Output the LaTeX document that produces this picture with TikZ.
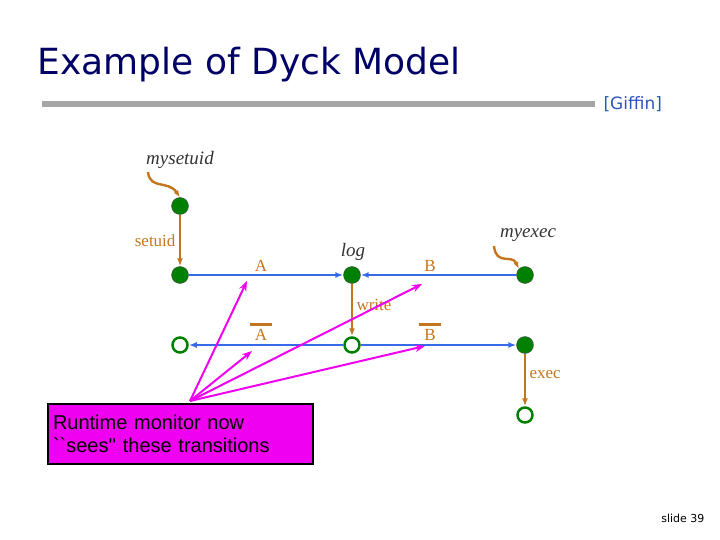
\documentclass[tikz,border=0pt]{standalone}
\usepackage{fontspec}
\setmainfont{Liberation Serif}
\newfontfamily\slidefont{DejaVu Sans}
\newfontfamily\boxfont{Liberation Sans}
\usetikzlibrary{arrows.meta}
\definecolor{titleblue}{RGB}{0,0,102}
\definecolor{edgebrown}{RGB}{196,118,30}
\definecolor{flowblue}{RGB}{55,105,235}
\definecolor{stategreen}{RGB}{0,128,0}
\definecolor{monitor}{RGB}{240,0,240}

\tikzset{
  state/.style={circle, draw=black!70, fill=stategreen, minimum size=17pt, inner sep=0pt},
  final/.style={circle, draw=stategreen, line width=2.5pt, fill=white, minimum size=15pt, inner sep=0pt},
  call/.style={flowblue, line width=2.4pt, -{Latex[length=8pt]}},
  move/.style={edgebrown, line width=2.4pt, -{Latex[length=8pt]}},
  lbl/.style={edgebrown, font=\fontsize{17}{17}\selectfont},
  fname/.style={black!80, font=\fontsize{19}{19}\selectfont\itshape},
  see/.style={monitor, line width=2pt, -{Stealth[length=10pt]}}
}

\begin{document}
\begin{tikzpicture}[x=1pt, y=-1pt]
    \useasboundingbox (0,0) rectangle (720,540);

    \node[anchor=west, titleblue, font=\slidefont\fontsize{36}{36}\selectfont] (title) at (34,65) {Example of Dyck Model};
    \fill[gray!70] (42,101) rectangle (595,107);
    \node[anchor=west, flowblue!80!black, font=\slidefont\fontsize{17}{17}\selectfont] (cite) at (600,104) {[Giffin]};
    \node[anchor=east, font=\slidefont\fontsize{11}{11}\selectfont] (slide) at (708,518) {slide 39};

    % upper row
    \node[state] (s1) at (180,206) {};
    \node[state] (s2) at (180,275) {};
    \node[state] (s3) at (352,275) {};
    \node[state] (s4) at (525,275) {};
    % lower row
    \node[final] (t1) at (180,345) {};
    \node[final] (t2) at (352,345) {};
    \node[state] (t3) at (525,345) {};
    \node[final] (t4) at (525,415) {};

    \draw[call] (s2) -- (s3);
    \draw[call] (s4) -- (s3);
    \draw[call] (t2) -- (t1);
    \draw[call] (t2) -- (t3);
    \draw[move] (s1) -- node[lbl, left] {setuid} (s2);
    \draw[move] (s3) -- node[lbl, right, pos=0.4] {write} (t2);
    \draw[move] (t3) -- node[lbl, right, pos=0.4] {exec} (t4);

    \node[fname] (mysetuid) at (180,160) {mysetuid};
    \node[fname] (myexec) at (528,235) {myexec};
    \node[fname] (log) at (353,252) {log};
    \coordinate (in1) at (148,172);
    \coordinate (in2) at (494,246);
    \draw[move, -{Latex[length=7pt]}] (in1) .. controls (150,190) and (168,180) .. (s1.north);
    \draw[move, -{Latex[length=7pt]}] (in2) .. controls (496,266) and (512,254) .. (s4.north west);

    \node[lbl] (a) at (261,266) {A};
    \node[lbl] (b) at (430,266) {B};
    \node[lbl] (abar) at (261,335) {A};
    \node[lbl] (bbar) at (430,335) {B};
    \draw[edgebrown, line width=3pt] (250,324) -- (272,324) (419,324) -- (441,324);

    \node[draw=black, line width=2pt, fill=monitor, minimum width=265pt, minimum height=60pt, anchor=north west,
          align=left, text width=255pt, font=\boxfont\fontsize{20}{23}\selectfont] (box) at (47,403)
          {Runtime monitor now\\``sees'' these transitions};
    \coordinate (src) at (190,401);
    \coordinate (ha) at (247,281);
    \coordinate (hb) at (422,284);
    \coordinate (habar) at (252,351);
    \coordinate (hbbar) at (425,346);
    \draw[see] (src) -- (ha);
    \draw[see] (src) -- (habar);
    \draw[see] (src) -- (hb);
    \draw[see] (src) -- (hbbar);
\end{tikzpicture}
\end{document}
